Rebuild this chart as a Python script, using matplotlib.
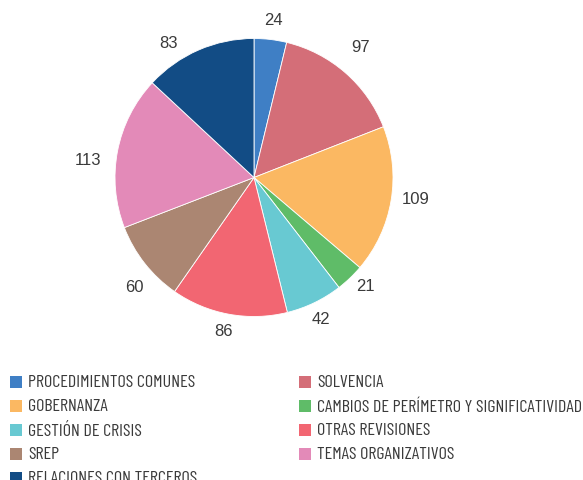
import numpy as np
import matplotlib.pyplot as plt
from matplotlib.patches import Rectangle

# datos
categorias = ["PROCEDIMIENTOS COMUNES", "SOLVENCIA", "GOBERNANZA",
              "CAMBIOS DE PERÍMETRO Y SIGNIFICATIVIDAD", "GESTIÓN DE CRISIS",
              "OTRAS REVISIONES", "SREP", "TEMAS ORGANIZATIVOS",
              "RELACIONES CON TERCEROS"]
valores = [24, 97, 109, 21, 42, 86, 60, 113, 83]
colores = ["#3F7FC5", "#D46E78", "#FBB862", "#5FBC68", "#68C9D2",
           "#F26672", "#AB8672", "#E38AB8", "#124C85"]

# pequeños ajustes (px, x a la derecha / y hacia arriba) de las etiquetas
ajuste_etiquetas = [(0, -2), (1, 9), (3, 6), (0, 9), (-3, 4),
                    (-1, 6), (7, -9), (-8, -13), (-21, -13)]

C_TEXTO = "#3a3a3a"
FUENTE_LEYENDA = ["Barlow Condensed", "DejaVu Sans"]

W, H = 583, 481
fig = plt.figure(figsize=(W / 100, H / 100), dpi=100)
fig.patch.set_facecolor("white")

# tarta
cx, cy, r = 254, 178.5, 139
ax = fig.add_axes([(cx - r) / W, (H - cy - r) / H, 2 * r / W, 2 * r / H])
_, etiquetas = ax.pie(valores, colors=colores, labels=[str(v) for v in valores],
                      startangle=90, counterclock=False, labeldistance=1.16,
                      wedgeprops=dict(linewidth=0.6, edgecolor="white"),
                      textprops=dict(fontsize=12, color=C_TEXTO,
                                     family="Liberation Sans"))
for t, (dx, dy) in zip(etiquetas, ajuste_etiquetas):
    x, y = t.get_position()
    t.set_position((x + dx / r, y + dy / r))
    t.set_ha("center")
    t.set_va("center")
ax.set_xlim(-1, 1)
ax.set_ylim(-1, 1)
ax.set_aspect("equal")

# leyenda manual en dos columnas
x_cols = [10, 299]
y0, dy = 383, 24
for i, (nombre, color) in enumerate(zip(categorias, colores)):
    fila, col = divmod(i, 2)
    x = x_cols[col]
    y = y0 + fila * dy
    fig.add_artist(Rectangle((x / W, (H - y - 6) / H), 12 / W, 12 / H,
                             transform=fig.transFigure, facecolor=color,
                             edgecolor="none"))
    fig.text((x + 18) / W, (H - y) / H, nombre, ha="left", va="center",
             fontsize=13, color=C_TEXTO, family=FUENTE_LEYENDA)

fig.savefig("out.png", dpi=100, facecolor="white")
